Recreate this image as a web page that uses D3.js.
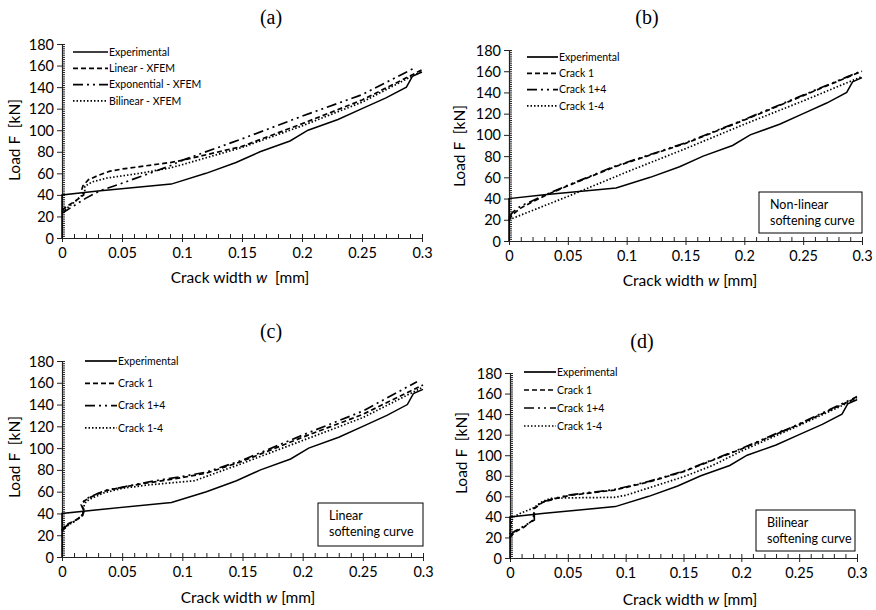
<!DOCTYPE html>
<html>
<head>
<meta charset="utf-8">
<script src="https://cdn.jsdelivr.net/npm/d3@7"></script>
<style>
  body { margin: 0; background: #fff; }
  svg text { fill: #000; white-space: pre; }
</style>
</head>
<body>
<div id="chart"></div>
<script>
// Crack width w [mm] vs load F [kN], pairs of [w, F]

const experimental = [
  [0, 0], [0, 40], [0.03, 43.5], [0.091, 50], [0.12, 60], [0.145, 70], [0.165, 80],
  [0.19, 90], [0.205, 100], [0.23, 110], [0.25, 120], [0.27, 130], [0.287, 140],
  [0.292, 150], [0.3, 154]
];

// (a) softening curves
const aLinear = [
  [0, 26], [0.005, 30], [0.012, 35], [0.018, 40], [0.0165, 45], [0.0175, 48.5], [0.022, 54],
  [0.03, 58], [0.04, 62], [0.05, 64], [0.07, 67], [0.09, 70], [0.1, 72], [0.15, 85],
  [0.2, 106], [0.25, 128], [0.3, 156]
];
const aExponential = [
  [0, 23], [0.01, 30], [0.02, 37], [0.032, 44], [0.048, 50], [0.073, 60], [0.09, 67],
  [0.1, 72], [0.15, 92], [0.2, 113], [0.25, 133], [0.295, 158.5]
];
const aBilinear = [
  [0, 24], [0.01, 33], [0.019, 42], [0.019, 48], [0.025, 52], [0.037, 55.5], [0.065, 60],
  [0.09, 65], [0.1, 68], [0.15, 84], [0.2, 104], [0.25, 126], [0.3, 155]
];

// (b) non-linear softening
const bCrack1 = [
  [0, 20], [0.003, 25], [0.01, 31], [0.02, 37], [0.033, 44], [0.05, 52], [0.07, 61],
  [0.09, 70], [0.12, 81], [0.15, 92], [0.2, 114], [0.25, 137], [0.3, 160]
];
const bCrack14 = [
  [0, 22], [0.003, 27], [0.01, 33], [0.02, 38], [0.033, 44.5], [0.05, 52.5], [0.07, 61.5],
  [0.09, 70.5], [0.12, 81.5], [0.15, 92.5], [0.2, 114.5], [0.25, 137.5], [0.3, 160.5]
];
const bCrack1to4 = [
  [0, 20], [0.05, 42], [0.1, 65], [0.15, 87], [0.2, 110], [0.25, 132], [0.3, 155]
];

// (c) linear softening
const cCrack1 = [
  [0, 25], [0.004, 30], [0.01, 33], [0.017, 38], [0.018, 43], [0.016, 48], [0.018, 51],
  [0.022, 54], [0.03, 58], [0.037, 61], [0.05, 64], [0.065, 67], [0.08, 69.5], [0.1, 73],
  [0.12, 77], [0.15, 88], [0.2, 110], [0.25, 131], [0.3, 158]
];
const cCrack14 = [
  [0, 24], [0.004, 29], [0.01, 32.5], [0.017, 37.5], [0.018, 43], [0.0165, 48], [0.0185, 51.5],
  [0.022, 54.5], [0.03, 58.5], [0.037, 61.5], [0.05, 64], [0.065, 67.5], [0.08, 70.5],
  [0.1, 74], [0.12, 78], [0.15, 89], [0.2, 112], [0.25, 134], [0.295, 161]
];
const cCrack1to4 = [
  [0, 24], [0.005, 29], [0.012, 34], [0.018, 40], [0.018, 46], [0.02, 51], [0.025, 54],
  [0.035, 59], [0.05, 63], [0.07, 66], [0.09, 68], [0.11, 70], [0.15, 86], [0.2, 107],
  [0.25, 128], [0.3, 156]
];

// (d) bilinear softening
const dCrack1 = [
  [0, 20], [0.004, 25], [0.012, 30], [0.02, 37], [0.021, 48], [0.028, 54], [0.04, 58],
  [0.052, 61], [0.09, 66], [0.12, 74], [0.15, 84], [0.2, 106], [0.25, 130], [0.3, 156]
];
const dCrack14 = [
  [0, 22], [0.004, 26], [0.012, 31], [0.021, 37], [0.021, 49], [0.028, 54.5], [0.04, 58.5],
  [0.052, 61.5], [0.09, 66.5], [0.12, 74.5], [0.15, 84.5], [0.2, 106.5], [0.23, 121],
  [0.237, 124.5], [0.233, 122], [0.25, 130.5], [0.3, 157]
];
const dCrack1to4 = [
  [0, 20], [0.001, 35], [0.003, 40], [0.01, 44], [0.02, 48.5], [0.028, 55], [0.035, 58],
  [0.05, 58.5], [0.09, 59], [0.1, 61], [0.15, 79], [0.175, 90], [0.2, 104], [0.25, 129],
  [0.3, 155]
];

const xTicks = [0, 0.05, 0.1, 0.15, 0.2, 0.25, 0.3];
const yTicks = [0, 20, 40, 60, 80, 100, 120, 140, 160, 180];

// line styles
const SOLID = null;
const DASH = "5,3";
const DASHDOT = "10,4,2,4,2,4";
const DOT = "1.5,2";

const svg = d3.select("#chart")
  .append("svg")
  .attr("width", 876)
  .attr("height", 610)
  .style("background-color", "#fff");

function drawPanel(p) {
  const x = d3.scaleLinear().domain([0, 0.3]).range([p.left, p.right]);
  const y = d3.scaleLinear().domain([0, 180]).range([p.bottom, p.top]);
  const g = svg.append("g");

  // minor ticks (inside)
  g.append("g")
    .attr("transform", `translate(0, ${p.bottom})`)
    .call(d3.axisBottom(x).tickValues(d3.range(0, 0.3001, 0.01)).tickSize(-4).tickFormat(""))
    .call((a) => a.select(".domain").remove());
  g.append("g")
    .attr("transform", `translate(${p.left}, 0)`)
    .call(d3.axisLeft(y).tickValues(d3.range(0, 181, 2)).tickSize(-3).tickFormat(""))
    .call((a) => a.select(".domain").remove());

  // major axes
  const xa = g.append("g")
    .attr("transform", `translate(0, ${p.bottom})`)
    .call(d3.axisBottom(x).tickValues(xTicks).tickSize(4).tickSizeOuter(0).tickPadding(4).tickFormat((d) => d));
  const ya = g.append("g")
    .attr("transform", `translate(${p.left}, 0)`)
    .call(d3.axisLeft(y).tickValues(yTicks).tickSize(5).tickSizeOuter(0).tickPadding(3));
  g.selectAll(".tick line").attr("stroke", "#222");
  g.selectAll(".domain").attr("stroke", "#222").attr("stroke-width", 1.2);
  xa.selectAll("text").attr("font-family", "Lato").attr("font-size", 14.5).attr("dy", "0.8em");
  ya.selectAll("text").attr("font-family", "Lato").attr("font-size", 14.5).attr("dy", "0.35em");

  // series lines
  const line = d3.line().x((d) => x(d[0])).y((d) => y(d[1]));
  p.series.forEach((s) => {
    g.append("path")
      .datum(s.data)
      .attr("d", line)
      .attr("fill", "none")
      .attr("stroke", "#000")
      .attr("stroke-width", s.dash === SOLID ? 1.5 : 1.7)
      .attr("stroke-dasharray", s.dash);
  });

  // legend
  p.series.forEach((s, i) => {
    const ly = p.legend.y + i * p.legend.step;
    g.append("line")
      .attr("x1", p.legend.x).attr("x2", p.legend.x + p.legend.len)
      .attr("y1", ly).attr("y2", ly)
      .attr("stroke", "#000").attr("stroke-width", 1.7)
      .attr("stroke-dasharray", s.dash);
    g.append("text")
      .attr("x", p.legend.x + p.legend.len + 1)
      .attr("y", ly)
      .attr("dy", "0.35em")
      .attr("font-family", "Lato")
      .attr("font-size", 10.5)
      .text(s.name);
  });

  // panel title
  g.append("text")
    .attr("x", p.title.x).attr("y", p.title.y)
    .attr("text-anchor", "middle")
    .attr("font-family", "Liberation Serif")
    .attr("font-size", 20)
    .text(p.title.text);

  // x label
  const xl = g.append("text")
    .attr("x", p.xLabel.x).attr("y", p.xLabel.y)
    .attr("text-anchor", "middle")
    .attr("font-family", "Lato")
    .attr("font-size", 15.5);
  xl.append("tspan").text("Crack width ");
  xl.append("tspan").attr("font-style", "italic").text("w");
  xl.append("tspan").text(p.xLabel.gap ? "  [mm]" : " [mm]");

  // y label
  g.append("text")
    .attr("transform", `translate(${p.yLabel.x}, ${p.yLabel.y}) rotate(-90)`)
    .attr("text-anchor", "middle")
    .attr("font-family", "Lato")
    .attr("font-size", 15.5)
    .text("Load F  [kN]");

  // note box
  if (p.box) {
    g.append("rect")
      .attr("x", p.box.x).attr("y", p.box.y)
      .attr("width", p.box.w).attr("height", p.box.h)
      .attr("fill", "#fff").attr("stroke", "#000").attr("stroke-width", 1);
    p.box.lines.forEach((t, i) => {
      g.append("text")
        .attr("x", p.box.x + 11)
        .attr("y", p.box.y + 17 + i * 16)
        .attr("font-family", "Lato")
        .attr("font-size", 12.5)
        .text(t);
    });
  }
}

drawPanel({
  left: 62, right: 422, top: 44, bottom: 238,
  series: [
    { name: "Experimental", data: experimental, dash: SOLID },
    { name: "Linear - XFEM", data: aLinear, dash: DASH },
    { name: "Exponential - XFEM", data: aExponential, dash: DASHDOT },
    { name: "Bilinear - XFEM", data: aBilinear, dash: DOT }
  ],
  legend: { x: 73, y: 52, step: 16.3, len: 35 },
  title: { text: "(a)", x: 271, y: 24 },
  xLabel: { x: 240, y: 283, gap: true },
  yLabel: { x: 20, y: 140 }
});

drawPanel({
  left: 509, right: 862, top: 50, bottom: 241,
  series: [
    { name: "Experimental", data: experimental, dash: SOLID },
    { name: "Crack 1", data: bCrack1, dash: DASH },
    { name: "Crack 1+4", data: bCrack14, dash: DASHDOT },
    { name: "Crack 1-4", data: bCrack1to4, dash: DOT }
  ],
  legend: { x: 527, y: 57, step: 16.3, len: 31 },
  title: { text: "(b)", x: 647, y: 24 },
  xLabel: { x: 690, y: 286, gap: false },
  yLabel: { x: 465, y: 146 },
  box: { x: 759, y: 192, w: 103, h: 41, lines: ["Non-linear", "softening curve"] }
});

drawPanel({
  left: 62, right: 423, top: 361, bottom: 557,
  series: [
    { name: "Experimental", data: experimental, dash: SOLID },
    { name: "Crack 1", data: cCrack1, dash: DASH },
    { name: "Crack 1+4", data: cCrack14, dash: DASHDOT },
    { name: "Crack 1-4", data: cCrack1to4, dash: DOT }
  ],
  legend: { x: 85, y: 361, step: 22.3, len: 32 },
  title: { text: "(c)", x: 271, y: 338 },
  xLabel: { x: 248, y: 603, gap: false },
  yLabel: { x: 20, y: 457 },
  box: { x: 318, y: 503, w: 105, h: 43, lines: ["Linear", "softening curve"] }
});

drawPanel({
  left: 510, right: 857, top: 373, bottom: 558,
  series: [
    { name: "Experimental", data: experimental, dash: SOLID },
    { name: "Crack 1", data: dCrack1, dash: DASH },
    { name: "Crack 1+4", data: dCrack14, dash: DASHDOT },
    { name: "Crack 1-4", data: dCrack1to4, dash: DOT }
  ],
  legend: { x: 524, y: 372, step: 18, len: 32 },
  title: { text: "(d)", x: 642, y: 348 },
  xLabel: { x: 690, y: 605, gap: false },
  yLabel: { x: 467, y: 453 },
  box: { x: 756, y: 510, w: 99, h: 41, lines: ["Bilinear", "softening curve"] }
});
</script>
</body>
</html>
